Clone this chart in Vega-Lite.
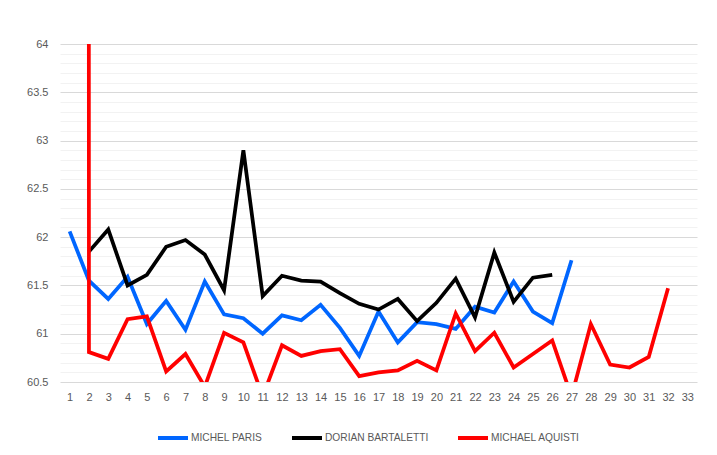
{
  "$schema": "https://vega.github.io/schema/vega-lite/v6.json",
  "autosize": "none",
  "width": 637,
  "height": 338,
  "padding": {"left": 60, "top": 44, "right": 20, "bottom": 73},
  "background": "white",
  "config": {
    "view": {"stroke": null},
    "font": "Liberation Sans",
    "axis": {"labelFont": "Liberation Sans", "labelFontSize": 11, "labelColor": "#595959"}
  },
  "data": {
    "values": [
      {"x": 1, "name": "MICHEL PARIS", "v": 62.06},
      {"x": 2, "name": "MICHEL PARIS", "v": 61.55},
      {"x": 3, "name": "MICHEL PARIS", "v": 61.36},
      {"x": 4, "name": "MICHEL PARIS", "v": 61.59},
      {"x": 5, "name": "MICHEL PARIS", "v": 61.10},
      {"x": 6, "name": "MICHEL PARIS", "v": 61.34},
      {"x": 7, "name": "MICHEL PARIS", "v": 61.04},
      {"x": 8, "name": "MICHEL PARIS", "v": 61.54},
      {"x": 9, "name": "MICHEL PARIS", "v": 61.20},
      {"x": 10, "name": "MICHEL PARIS", "v": 61.16},
      {"x": 11, "name": "MICHEL PARIS", "v": 61.00},
      {"x": 12, "name": "MICHEL PARIS", "v": 61.19},
      {"x": 13, "name": "MICHEL PARIS", "v": 61.14},
      {"x": 14, "name": "MICHEL PARIS", "v": 61.30},
      {"x": 15, "name": "MICHEL PARIS", "v": 61.06},
      {"x": 16, "name": "MICHEL PARIS", "v": 60.77},
      {"x": 17, "name": "MICHEL PARIS", "v": 61.23},
      {"x": 18, "name": "MICHEL PARIS", "v": 60.91},
      {"x": 19, "name": "MICHEL PARIS", "v": 61.12},
      {"x": 20, "name": "MICHEL PARIS", "v": 61.10},
      {"x": 21, "name": "MICHEL PARIS", "v": 61.05},
      {"x": 22, "name": "MICHEL PARIS", "v": 61.28},
      {"x": 23, "name": "MICHEL PARIS", "v": 61.22},
      {"x": 24, "name": "MICHEL PARIS", "v": 61.54},
      {"x": 25, "name": "MICHEL PARIS", "v": 61.23},
      {"x": 26, "name": "MICHEL PARIS", "v": 61.11},
      {"x": 27, "name": "MICHEL PARIS", "v": 61.76},
      {"x": 2, "name": "DORIAN BARTALETTI", "v": 61.85},
      {"x": 3, "name": "DORIAN BARTALETTI", "v": 62.08},
      {"x": 4, "name": "DORIAN BARTALETTI", "v": 61.50},
      {"x": 5, "name": "DORIAN BARTALETTI", "v": 61.61},
      {"x": 6, "name": "DORIAN BARTALETTI", "v": 61.90},
      {"x": 7, "name": "DORIAN BARTALETTI", "v": 61.97},
      {"x": 8, "name": "DORIAN BARTALETTI", "v": 61.82},
      {"x": 9, "name": "DORIAN BARTALETTI", "v": 61.45},
      {"x": 10, "name": "DORIAN BARTALETTI", "v": 62.90},
      {"x": 11, "name": "DORIAN BARTALETTI", "v": 61.39},
      {"x": 12, "name": "DORIAN BARTALETTI", "v": 61.60},
      {"x": 13, "name": "DORIAN BARTALETTI", "v": 61.55},
      {"x": 14, "name": "DORIAN BARTALETTI", "v": 61.54},
      {"x": 15, "name": "DORIAN BARTALETTI", "v": 61.42},
      {"x": 16, "name": "DORIAN BARTALETTI", "v": 61.31},
      {"x": 17, "name": "DORIAN BARTALETTI", "v": 61.25},
      {"x": 18, "name": "DORIAN BARTALETTI", "v": 61.36},
      {"x": 19, "name": "DORIAN BARTALETTI", "v": 61.13},
      {"x": 20, "name": "DORIAN BARTALETTI", "v": 61.32},
      {"x": 21, "name": "DORIAN BARTALETTI", "v": 61.57},
      {"x": 22, "name": "DORIAN BARTALETTI", "v": 61.17},
      {"x": 23, "name": "DORIAN BARTALETTI", "v": 61.84},
      {"x": 24, "name": "DORIAN BARTALETTI", "v": 61.33},
      {"x": 25, "name": "DORIAN BARTALETTI", "v": 61.58},
      {"x": 26, "name": "DORIAN BARTALETTI", "v": 61.61},
      {"x": 1, "name": "MICHAEL AQUISTI", "v": 600},
      {"x": 2, "name": "MICHAEL AQUISTI", "v": 60.81},
      {"x": 3, "name": "MICHAEL AQUISTI", "v": 60.74},
      {"x": 4, "name": "MICHAEL AQUISTI", "v": 61.15},
      {"x": 5, "name": "MICHAEL AQUISTI", "v": 61.18},
      {"x": 6, "name": "MICHAEL AQUISTI", "v": 60.61},
      {"x": 7, "name": "MICHAEL AQUISTI", "v": 60.79},
      {"x": 8, "name": "MICHAEL AQUISTI", "v": 60.45},
      {"x": 9, "name": "MICHAEL AQUISTI", "v": 61.01},
      {"x": 10, "name": "MICHAEL AQUISTI", "v": 60.91},
      {"x": 11, "name": "MICHAEL AQUISTI", "v": 60.35},
      {"x": 12, "name": "MICHAEL AQUISTI", "v": 60.88},
      {"x": 13, "name": "MICHAEL AQUISTI", "v": 60.77},
      {"x": 14, "name": "MICHAEL AQUISTI", "v": 60.82},
      {"x": 15, "name": "MICHAEL AQUISTI", "v": 60.84},
      {"x": 16, "name": "MICHAEL AQUISTI", "v": 60.56},
      {"x": 17, "name": "MICHAEL AQUISTI", "v": 60.60},
      {"x": 18, "name": "MICHAEL AQUISTI", "v": 60.62},
      {"x": 19, "name": "MICHAEL AQUISTI", "v": 60.72},
      {"x": 20, "name": "MICHAEL AQUISTI", "v": 60.62},
      {"x": 21, "name": "MICHAEL AQUISTI", "v": 61.21},
      {"x": 22, "name": "MICHAEL AQUISTI", "v": 60.82},
      {"x": 23, "name": "MICHAEL AQUISTI", "v": 61.01},
      {"x": 24, "name": "MICHAEL AQUISTI", "v": 60.65},
      {"x": 25, "name": "MICHAEL AQUISTI", "v": 60.79},
      {"x": 26, "name": "MICHAEL AQUISTI", "v": 60.93},
      {"x": 27, "name": "MICHAEL AQUISTI", "v": 60.35},
      {"x": 28, "name": "MICHAEL AQUISTI", "v": 61.10},
      {"x": 29, "name": "MICHAEL AQUISTI", "v": 60.68},
      {"x": 30, "name": "MICHAEL AQUISTI", "v": 60.65},
      {"x": 31, "name": "MICHAEL AQUISTI", "v": 60.76},
      {"x": 32, "name": "MICHAEL AQUISTI", "v": 61.47}
    ]
  },
  "encoding": {
    "x": {
      "field": "x", "type": "quantitative",
      "scale": {"domain": [0.5, 33.5], "nice": false, "zero": false},
      "axis": {
        "title": null, "grid": false, "domain": false, "ticks": false, "labelPadding": 9,
        "values": [1,2,3,4,5,6,7,8,9,10,11,12,13,14,15,16,17,18,19,20,21,22,23,24,25,26,27,28,29,30,31,32,33],
        "labelFlush": false, "labelOverlap": false
      }
    }
  },
  "layer": [
    {
      "mark": {"type": "point", "opacity": 0, "clip": true},
      "encoding": {
        "y": {
          "field": "v", "type": "quantitative",
          "scale": {"domain": [60.5, 64], "nice": false, "zero": false},
          "axis": {
            "orient": "left", "labels": false, "ticks": false, "domain": false, "title": null,
            "grid": true, "gridColor": "#f2f2f2", "gridWidth": 1,
            "values": [60.6, 60.7, 60.8, 60.9, 61.1, 61.2, 61.3, 61.4, 61.6, 61.7, 61.8, 61.9, 62.1, 62.2, 62.3, 62.4, 62.6, 62.7, 62.8, 62.9, 63.1, 63.2, 63.3, 63.4, 63.6, 63.7, 63.8, 63.9]
          }
        }
      }
    },
    {
      "mark": {"type": "line", "strokeWidth": 3.75, "clip": true, "strokeJoin": "miter", "strokeCap": "butt"},
      "encoding": {
        "y": {
          "field": "v", "type": "quantitative",
          "scale": {"domain": [60.5, 64], "nice": false, "zero": false},
          "axis": {
            "orient": "left", "title": null, "ticks": false, "domain": false, "labelPadding": 12,
            "grid": true, "gridColor": "#d9d9d9", "gridWidth": 1, "format": "~g",
            "values": [60.5, 61, 61.5, 62, 62.5, 63, 63.5, 64],
            "labelFlush": false
          }
        },
        "color": {
          "field": "name", "type": "nominal",
          "scale": {"domain": ["MICHEL PARIS", "DORIAN BARTALETTI", "MICHAEL AQUISTI"], "range": ["#0066FF", "#000000", "#FF0000"]},
          "legend": {
            "title": null, "orient": "none", "direction": "horizontal",
            "legendX": 96, "legendY": 377,
            "symbolType": "stroke", "symbolSize": 900, "symbolStrokeWidth": 4,
            "labelFont": "Liberation Sans", "labelFontSize": 10.2, "labelColor": "#595959",
            "labelOffset": 1, "columnPadding": 21
          }
        },
        "order": {"field": "x", "type": "quantitative"}
      }
    }
  ],
  "resolve": {"axis": {"y": "independent"}}
}
